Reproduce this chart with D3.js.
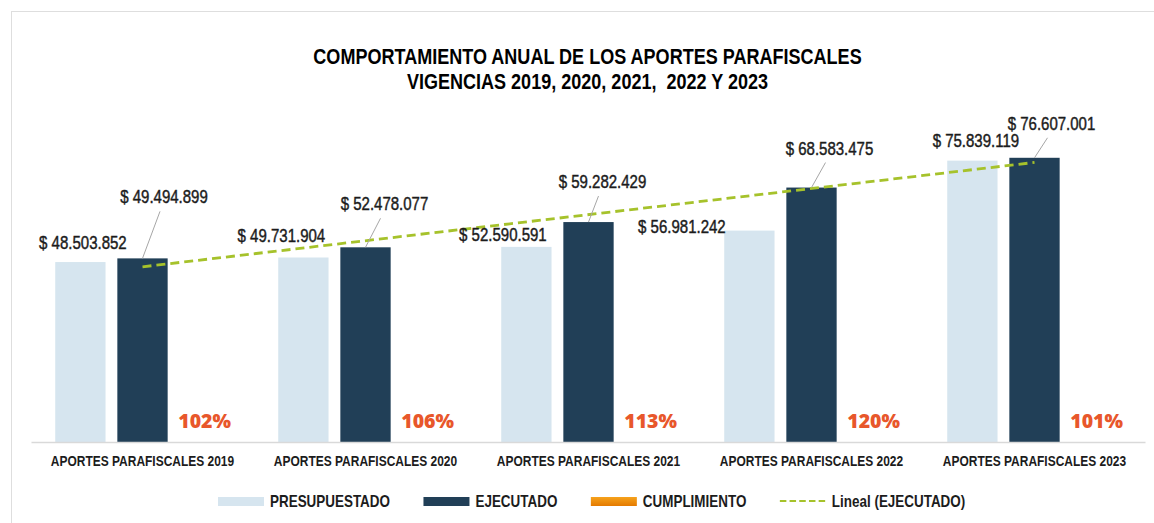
<!DOCTYPE html>
<html>
<head>
<meta charset="utf-8">
<script src="https://cdn.jsdelivr.net/npm/d3@7"></script>
<style>
  html, body { margin: 0; padding: 0; background: #ffffff; }
  svg { display: block; }
</style>
</head>
<body>
<svg id="chart" width="1154" height="523"></svg>
<script>
// ---- data ----
const titleLines = [
  "COMPORTAMIENTO ANUAL DE LOS APORTES PARAFISCALES",
  "VIGENCIAS 2019, 2020, 2021,  2022 Y 2023"
];
const categories = [
  "APORTES PARAFISCALES 2019",
  "APORTES PARAFISCALES 2020",
  "APORTES PARAFISCALES 2021",
  "APORTES PARAFISCALES 2022",
  "APORTES PARAFISCALES 2023"
];
const seriesNames = ["PRESUPUESTADO", "EJECUTADO", "CUMPLIMIENTO"];
const trendName = "Lineal (EJECUTADO)";
const presupuestado = [48503852, 49731904, 52590591, 56981242, 75839119];
const ejecutado     = [49494899, 52478077, 59282429, 68583475, 76607001];
const cumplimiento  = [102, 106, 113, 120, 101];   // percent executed vs budget

// ---- layout / style ----
const colors = {
  PRESUPUESTADO: "#d6e5ef",
  EJECUTADO: "#213f57",
  CUMPLIMIENTO: "#f08a00",
  trend: "#a6c22b",
  pct: "#e8572b",
  text: "#1c1c1c",
  axis: "#d9d9d9",
  leader: "#a6a6a6"
};
const NARROW = 0.82;   // horizontal squeeze that gives a condensed face
// label offsets relative to bar top-centre: [dx, dy of baseline]
const presLabelOffset = [[2.5, -13.5], [-22, -15], [-23.5, -5.5], [-67.5, 2.5], [3.5, -14]];
const ejecLabelOffset = [[21.5, -55], [19, -37], [14, -34], [18, -33], [17, -28]];

const svg = d3.select("#chart");

// card frame
svg.append("rect")
  .attr("x", 11.5).attr("y", 11.5)
  .attr("width", 1300).attr("height", 700)
  .attr("fill", "#ffffff")
  .attr("stroke", "#dedede").attr("stroke-width", 1);

const locale = d3.formatLocale({ decimal: ",", thousands: ".", grouping: [3], currency: ["$ ", ""] });
const fmtMoney = locale.format("$,");

function narrowText(parent, x, y, str, opt) {
  const t = parent.append("text")
    .attr("transform", `translate(${x},${y}) scale(${NARROW},1)`)
    .attr("text-anchor", opt.anchor || "middle")
    .attr("font-family", "'Liberation Sans', Arial, sans-serif")
    .attr("font-size", opt.size)
    .attr("font-weight", opt.weight || "normal")
    .attr("fill", opt.fill || colors.text)
    .attr("xml:space", "preserve")
    .style("white-space", "pre")
    .text(str);
  if (opt.stroke) {
    t.attr("stroke", opt.fill || colors.text).attr("stroke-width", opt.stroke);
  }
  return t;
}

// ---- scales ----
const x = d3.scaleBand().domain(categories).range([31, 1146]).padding(0);
const xs = d3.scaleBand().domain(seriesNames).range([0, x.bandwidth()])
  .paddingInner(0.19).paddingOuter(0.39);
const y = d3.scaleLinear().domain([0, 90000000]).range([442, 108.1]);

// ---- title ----
narrowText(svg, 587.5, 63.5, titleLines[0], { size: 22, weight: "bold", fill: "#000" });
narrowText(svg, 587.5, 88.5, titleLines[1], { size: 22, weight: "bold", fill: "#000" });

// ---- bars ----
const rows = categories.map((c, i) => ({
  cat: c,
  PRESUPUESTADO: presupuestado[i],
  EJECUTADO: ejecutado[i],
  CUMPLIMIENTO: cumplimiento[i] / 100
}));

const groups = svg.append("g").selectAll("g.grp")
  .data(rows).join("g")
  .attr("class", "grp")
  .attr("transform", d => `translate(${x(d.cat)},0)`);

groups.selectAll("rect")
  .data(d => seriesNames.map(s => ({ s, v: d[s] })))
  .join("rect")
  .attr("x", d => xs(d.s))
  .attr("width", xs.bandwidth())
  .attr("y", d => y(d.v))
  .attr("height", d => y(0) - y(d.v))
  .attr("fill", d => colors[d.s]);

// baseline
svg.append("line")
  .attr("x1", 31.5).attr("x2", 1145.5)
  .attr("y1", y(0) + 0.5).attr("y2", y(0) + 0.5)
  .attr("stroke", colors.axis).attr("stroke-width", 1.5);

// category axis labels
const xAxis = d3.axisBottom(x).tickSize(0).tickPadding(0);
const gx = svg.append("g").attr("transform", `translate(0,${y(0)})`).call(xAxis);
gx.select(".domain").remove();
gx.selectAll(".tick text").remove();
gx.selectAll(".tick").each(function (d) {
  narrowText(d3.select(this), 0, 24, d, { size: 14.6, weight: "bold" });
});

// ---- linear trend over EJECUTADO (least squares on period index) ----
const n = ejecutado.length;
const idx = d3.range(1, n + 1);
const mx = d3.mean(idx), my = d3.mean(ejecutado);
const slope = d3.sum(idx, (t, i) => (t - mx) * (ejecutado[i] - my)) / d3.sum(idx, t => (t - mx) ** 2);
const intercept = my - slope * mx;
const cxE = i => x(categories[i]) + xs("EJECUTADO") + xs.bandwidth() / 2;
const trendPts = [0, n - 1].map(i => [cxE(i), y(intercept + slope * (i + 1))]);

svg.append("path")
  .attr("d", d3.line()(trendPts))
  .attr("fill", "none")
  .attr("stroke", colors.trend)
  .attr("stroke-width", 2.8)
  .attr("stroke-dasharray", "9,5");

// ---- value labels ----
const labels = svg.append("g");
rows.forEach((d, i) => {
  // budget
  const cxP = x(d.cat) + xs("PRESUPUESTADO") + xs.bandwidth() / 2;
  const [pdx, pdy] = presLabelOffset[i];
  narrowText(labels, cxP + pdx, y(d.PRESUPUESTADO) + pdy, fmtMoney(d.PRESUPUESTADO),
    { size: 18.3, stroke: 0.45 });

  // executed, with leader line
  const cx = cxE(i);
  const top = y(d.EJECUTADO);
  const [edx, edy] = ejecLabelOffset[i];
  labels.append("line")
    .attr("x1", cx).attr("y1", top)
    .attr("x2", cx + edx - 4).attr("y2", top + edy + 8)
    .attr("stroke", colors.leader).attr("stroke-width", 1);
  narrowText(labels, cx + edx, top + edy, fmtMoney(d.EJECUTADO), { size: 18.3, stroke: 0.45 });

  // compliance percentage
  const cxC = x(d.cat) + xs("CUMPLIMIENTO") + xs.bandwidth() / 2;
  labels.append("text")
    .attr("x", cxC).attr("y", y(d.CUMPLIMIENTO) - 13.7)
    .attr("text-anchor", "middle")
    .attr("font-family", "'Open Sans', sans-serif")
    .attr("font-weight", 800)
    .attr("font-size", 19.5)
    .attr("fill", colors.pct)
    .text(cumplimiento[i] + "%");
});

// ---- legend ----
const legend = svg.append("g");
const legendItems = seriesNames.map(s => ({ name: s, kind: "box" }))
  .concat([{ name: trendName, kind: "dash" }]);
const defs = svg.append("defs");
const og = defs.append("linearGradient").attr("id", "orangeFill")
  .attr("x1", 0).attr("y1", 0).attr("x2", 0).attr("y2", 1);
og.append("stop").attr("offset", "0%").attr("stop-color", "#f6a21c");
og.append("stop").attr("offset", "100%").attr("stop-color", "#e47a00");

let lx = 218;
const ly = 501.5;
legendItems.forEach(item => {
  if (item.kind === "box") {
    legend.append("rect")
      .attr("x", lx).attr("y", ly - 4.5)
      .attr("width", 46).attr("height", 9)
      .attr("fill", item.name === "CUMPLIMIENTO" ? "url(#orangeFill)" : colors[item.name]);
  } else {
    legend.append("line")
      .attr("x1", lx).attr("x2", lx + 46)
      .attr("y1", ly - 0.5).attr("y2", ly - 0.5)
      .attr("stroke", colors.trend).attr("stroke-width", 2)
      .attr("stroke-dasharray", "6.5,3.2");
  }
  const t = narrowText(legend, lx + 52, ly + 5, item.name,
    { size: 16.4, weight: "bold", anchor: "start" });
  const w = t.node().getComputedTextLength() * NARROW;
  lx += 52 + w + 33.5;
});
</script>
</body>
</html>
